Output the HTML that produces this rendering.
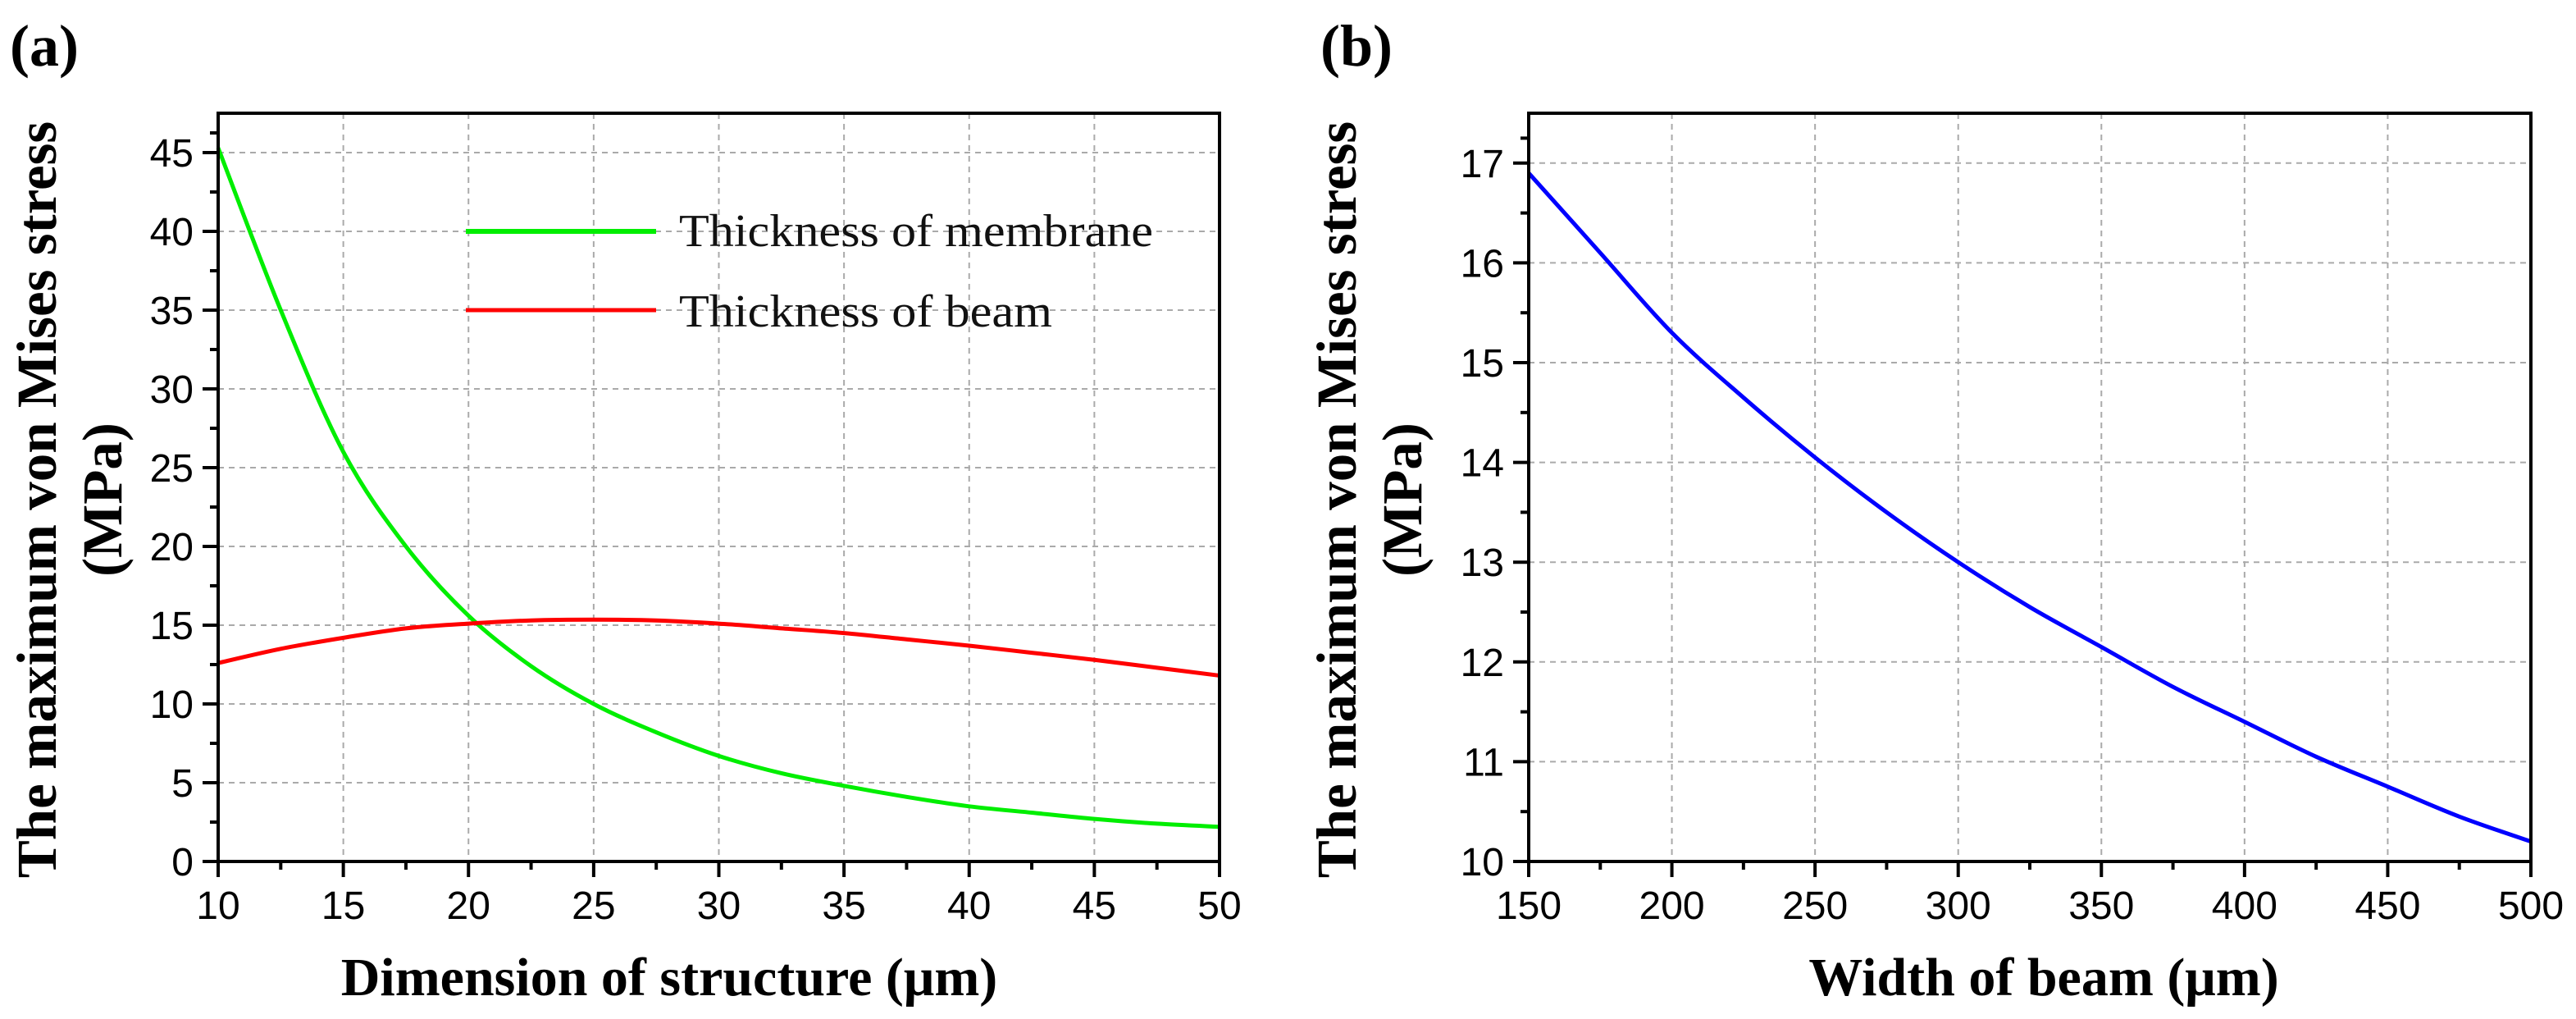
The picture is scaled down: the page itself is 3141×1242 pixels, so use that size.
<!DOCTYPE html>
<html><head><meta charset="utf-8">
<style>
html,body{margin:0;padding:0;background:#fff;}
svg{display:block;}
.tick{font-family:"Liberation Sans",Arial,sans-serif;font-size:48px;fill:#000;}
.title{font-family:"Liberation Serif","Times New Roman",serif;font-weight:bold;font-size:69px;fill:#000;}
.xtitle{font-family:"Liberation Serif","Times New Roman",serif;font-weight:bold;font-size:66px;fill:#000;}
.plabel{font-family:"Liberation Serif","Times New Roman",serif;font-weight:bold;font-size:72px;fill:#000;}
.leg{font-family:"Liberation Serif","Times New Roman",serif;font-size:56px;fill:#111;}
</style></head>
<body>
<svg id="chart" width="3141" height="1242" viewBox="0 0 3141 1242" xmlns="http://www.w3.org/2000/svg">
<text x="12" y="80" class="plabel">(a)</text>
<text x="1610" y="80" class="plabel">(b)</text>
<g id="pa"></g>
<g id="pb"></g>
</svg>
<script>
const aX = [10,12.5,15,17.5,20,22.5,25,27.5,30,32.5,35,37.5,40,42.5,45,47.5,50];
const aMembrane = [45.3,35.0,26.0,20.0,15.6,12.4,10.0,8.2,6.7,5.6,4.8,4.1,3.5,3.1,2.7,2.4,2.2];
const aBeam = [12.6,13.5,14.2,14.8,15.1,15.3,15.35,15.3,15.1,14.8,14.5,14.1,13.7,13.25,12.8,12.3,11.8];
const aXTicks = [10,15,20,25,30,35,40,45,50];
const aYTicks = [0,5,10,15,20,25,30,35,40,45];
const bX = [150,175,200,225,250,275,300,325,350,375,400,425,450,475,500];
const bStress = [16.9,16.1,15.3,14.65,14.05,13.5,13.0,12.55,12.15,11.75,11.4,11.05,10.75,10.45,10.2];
const bXTicks = [150,200,250,300,350,400,450,500];
const bYTicks = [10,11,12,13,14,15,16,17];

const NS = "http://www.w3.org/2000/svg";
function mk(parent, tag, attrs, text){
  const e = document.createElementNS(NS, tag);
  for (const k in attrs) e.setAttribute(k, attrs[k]);
  if (text !== undefined) e.textContent = text;
  parent.appendChild(e);
  return e;
}
function curve(xs, ys, sx, sy){
  const p = xs.map((x,i)=>[sx(x), sy(ys[i])]);
  let d = "M"+p[0][0]+","+p[0][1];
  for (let i=0;i<p.length-1;i++){
    const p0=p[Math.max(0,i-1)], p1=p[i], p2=p[i+1], p3=p[Math.min(p.length-1,i+2)];
    const c1=[p1[0]+(p2[0]-p0[0])/6, p1[1]+(p2[1]-p0[1])/6];
    const c2=[p2[0]-(p3[0]-p1[0])/6, p2[1]-(p3[1]-p1[1])/6];
    d += " C"+c1[0]+","+c1[1]+" "+c2[0]+","+c2[1]+" "+p2[0]+","+p2[1];
  }
  return d;
}
function panel(g, o){
  const sx = v => o.L + (v-o.x0)/(o.x1-o.x0)*(o.R-o.L);
  const sy = v => o.B - (v-o.y0)/(o.y1-o.y0)*(o.B-o.T);
  o.xt.forEach(v=>{ if (v!==o.x0 && v!==o.x1){
    const l = mk(g,"line",{x1:sx(v),x2:sx(v),y1:o.T,y2:o.B,stroke:"#aaa","stroke-width":2,"stroke-dasharray":"7,6"});
    
    
  }});
  o.yt.forEach(v=>{ if (v!==o.y0){
    const l = mk(g,"line",{x1:o.L,x2:o.R,y1:sy(v),y2:sy(v),stroke:"#aaa","stroke-width":2,"stroke-dasharray":"7,6"});
    
    
  }});
  o.series.forEach(s=>{
    const p = mk(g,"path",{d:curve(s.x,s.y,sx,sy),fill:"none",stroke:s.c,"stroke-width":5});
    
    
  });
  const f = mk(g,"rect",{x:o.L,y:o.T,width:o.R-o.L,height:o.B-o.T,fill:"none",stroke:"#000","stroke-width":4});
  
  
  for (let i=0;i<o.xt.length;i++){
    const v=o.xt[i];
    mk(g,"line",{x1:sx(v),x2:sx(v),y1:o.B,y2:o.B+19,stroke:"#000","stroke-width":4});
    if (i<o.xt.length-1){ const m=(v+o.xt[i+1])/2;
      mk(g,"line",{x1:sx(m),x2:sx(m),y1:o.B,y2:o.B+10,stroke:"#000","stroke-width":4}); }
    const t = mk(g,"text",{x:sx(v),y:o.B+70,"text-anchor":"middle",class:"tick"},String(v));
    
    
  }
  for (let i=0;i<o.yt.length;i++){
    const v=o.yt[i];
    mk(g,"line",{x1:o.L-19,x2:o.L,y1:sy(v),y2:sy(v),stroke:"#000","stroke-width":4});
    const m=(v+(o.yt[i+1]!==undefined?o.yt[i+1]:o.y1))/2;
    if (m<=o.y1) mk(g,"line",{x1:o.L-10,x2:o.L,y1:sy(m),y2:sy(m),stroke:"#000","stroke-width":4});
    const t = mk(g,"text",{x:o.L-30,y:sy(v)+17,"text-anchor":"end",class:"tick"},String(v));
    
    
  }
  const xt = mk(g,"text",{x:o.xtx,y:1213,"text-anchor":"middle",class:"xtitle"},o.xtitle);
  
  
  const cy=(o.T+o.B)/2+15;
  const y1t = mk(g,"text",{x:0,y:0,"text-anchor":"middle",class:"title",transform:"translate("+(o.ytx+24)+","+cy+") rotate(-90)"},"The maximum von Mises stress");
  
  
  const y2t = mk(g,"text",{x:0,y:0,"text-anchor":"middle",class:"title",transform:"translate("+(o.ytx+104)+","+cy+") rotate(-90)"},"(MPa)");
  
  
  return {sx,sy};
}
const ga=document.getElementById('pa');
panel(ga,{L:266,R:1487,T:138,B:1050,x0:10,x1:50,y0:0,y1:47.5,xt:aXTicks,yt:aYTicks,
  xtitle:"Dimension of structure (μm)",xtx:816,ytx:44,
  series:[{x:aX,y:aMembrane,c:"#00ee00",name:"membrane-line"},{x:aX,y:aBeam,c:"#ff0000",name:"beam-line"}]});
const gb=document.getElementById('pb');
panel(gb,{L:1864,R:3086,T:138,B:1050,x0:150,x1:500,y0:10,y1:17.5,xt:bXTicks,yt:bYTicks,
  xtitle:"Width of beam (μm)",xtx:2492,ytx:1629,
  series:[{x:bX,y:bStress,c:"#0000ff",name:"width-stress-line"}]});
const lg = mk(ga,"g",{});


const l1 = mk(lg,"line",{x1:568,x2:800,y1:282,y2:282,stroke:"#00ee00","stroke-width":6});


const t1 = mk(lg,"text",{x:828,y:300,class:"leg",textLength:578,lengthAdjust:"spacingAndGlyphs"},"Thickness of membrane");


const l2 = mk(lg,"line",{x1:568,x2:800,y1:378,y2:378,stroke:"#ff0000","stroke-width":5});


const t2 = mk(lg,"text",{x:828,y:398,class:"leg",textLength:455,lengthAdjust:"spacingAndGlyphs"},"Thickness of beam");


</script>
</body></html>
